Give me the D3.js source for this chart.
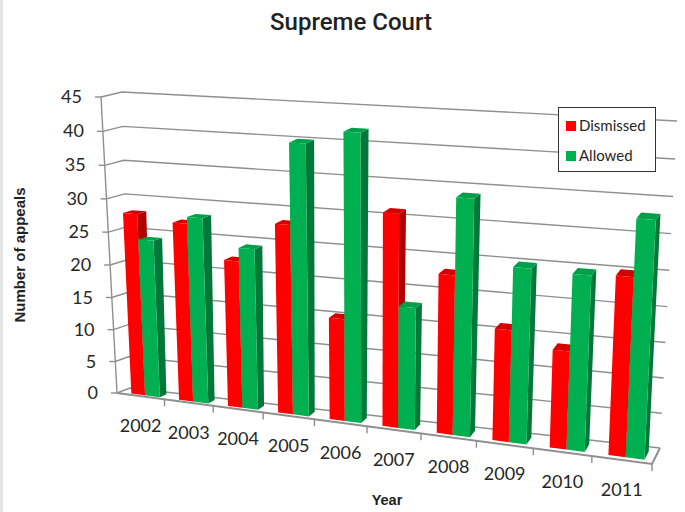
<!DOCTYPE html>
<html>
<head>
<meta charset="utf-8">
<script src="https://cdn.jsdelivr.net/npm/d3@7"></script>
<style>
  body { margin: 0; background: #fff; }
  svg { display: block; }
</style>
</head>
<body>
<script>
"use strict";

// DATA
const years = ["2002", "2003", "2004", "2005", "2006", "2007", "2008", "2009", "2010", "2011"];
const dismissed = [27.9, 27.1, 22.2, 28.2, 15.2, 31.1, 23.1, 16.1, 14, 25.1];
const allowed = [24.1, 28.1, 24.2, 40, 42, 17.9, 34, 25, 24.8, 33];
const valueTicks = [0, 5, 10, 15, 20, 25, 30, 35, 40, 45];
const seriesNames = ["Dismissed", "Allowed"];

const width = 685;
const height = 512;

const svg = d3.select("body").append("svg").attr("width", width).attr("height", height);

// PROJECTION: corners of the 3D box on screen
// f = front, b = back, l = left, r = right, 0 = floor, 1 = top
const box = {
  fl0: [117, 393], fl1: [101, 97], fr0: [652, 464], fr1: [668, 131],
  bl0: [130, 388], bl1: [122, 92], br0: [660, 448], br1: [677, 121],
};

const vScale = d3.scaleLinear().domain([0, 45]).range([0, 1]);
const cScale = d3.scaleLinear().domain([0, years.length]).range([0, 1]);
const perspective = 0.14; // categories get wider to the right
const perspectiveV = 0.05; // value steps get taller to the top

const lerp = (a, b, t) => [a[0] + (b[0] - a[0]) * t, a[1] + (b[1] - a[1]) * t];

// c = category position, v = value, d = depth 0..1
const project = function (c, v, d) {
  const t = cScale(c);
  const s = t / (1 + perspective * (1 - t));
  const n = vScale(v);
  const h = n / (1 + perspectiveV * (1 - n));
  const front = lerp(lerp(box.fl0, box.fr0, s), lerp(box.fl1, box.fr1, s), h);
  const back = lerp(lerp(box.bl0, box.br0, s), lerp(box.bl1, box.br1, s), h);
  return lerp(front, back, d);
};

const line = d3.line();
const poly = (pts) => line(pts) + "Z";

// BACKGROUND STRIP ON THE LEFT
svg.append("rect").attr("width", 3).attr("height", height).attr("fill", "#e4e4e4");

// GRID
const gridColor = "#8f8f8f";
const grid = svg.append("g").attr("fill", "none").attr("stroke", gridColor).attr("stroke-width", 1.4);

valueTicks.forEach((v) => {
  grid.append("path").attr("d", line([project(0, v, 0), project(0, v, 1), project(years.length, v, 1)]));
  const p = project(0, v, 0);
  grid.append("path").attr("d", line([[p[0] - 6, p[1]], p]));
});

// AXES LINES
grid.append("path").attr("d", line([project(0, 0, 0), project(0, 45, 0)]));
grid.append("path")
  .attr("stroke-width", 2)
  .attr("d", line([project(0, 0, 0), project(years.length, 0, 0), project(years.length, 0, 1)]));

d3.range(1, years.length + 1).forEach((c) => {
  const p = project(c, 0, 0);
  grid.append("path").attr("d", line([p, [p[0], p[1] + 7]]));
});

// BARS
const colors = [
  { front: "#ff0000", side: "#b00000", top: "#d40000" },
  { front: "#00b050", side: "#00783a", top: "#00a049" },
];
const slots = [[0.25, 0.54], [0.54, 0.85]];
const depth = [0.2, 0.72];

const bars = svg.append("g");
years.forEach((y, i) => {
  [dismissed[i], allowed[i]].forEach((value, s) => {
    const x0 = i + slots[s][0];
    const x1 = i + slots[s][1];
    const g = bars.append("g");
    g.append("path").attr("fill", colors[s].side).attr("d", poly([
      project(x1, 0, depth[0]), project(x1, value, depth[0]),
      project(x1, value, depth[1]), project(x1, 0, depth[1]),
    ]));
    g.append("path").attr("fill", colors[s].top).attr("d", poly([
      project(x0, value, depth[0]), project(x1, value, depth[0]),
      project(x1, value, depth[1]), project(x0, value, depth[1]),
    ]));
    g.append("path").attr("fill", colors[s].front).attr("d", poly([
      project(x0, 0, depth[0]), project(x1, 0, depth[0]),
      project(x1, value, depth[0]), project(x0, value, depth[0]),
    ]));
  });
});

// LABELS
const labelFont = "Lato, 'Open Sans', sans-serif";
const textColor = "#262626";

svg.append("g")
  .attr("font-family", labelFont).attr("font-size", 18).attr("fill", textColor).attr("text-anchor", "end")
  .selectAll("text").data(valueTicks).join("text")
  .attr("x", (d) => project(0, d, 0)[0] - 19)
  .attr("y", (d) => project(0, d, 0)[1] + 6)
  .text((d) => d);

svg.append("g")
  .attr("font-family", labelFont).attr("font-size", 18).attr("fill", textColor).attr("text-anchor", "middle")
  .selectAll("text").data(years).join("text")
  .attr("x", (d, i) => project(i + 0.5, 0, 0)[0])
  .attr("y", (d, i) => project(i + 0.5, 0, 0)[1] + 36)
  .text((d) => d);

svg.append("text")
  .attr("x", 351).attr("y", 30).attr("text-anchor", "middle")
  .attr("font-family", "Roboto, sans-serif").attr("font-weight", 500).attr("font-size", 24).attr("fill", "#222")
  .text("Supreme Court");

svg.append("text")
  .attr("x", 387).attr("y", 505).attr("text-anchor", "middle")
  .attr("font-family", "'Liberation Sans', sans-serif").attr("font-weight", "bold").attr("font-size", 14.5).attr("fill", "#222")
  .text("Year");

svg.append("text")
  .attr("transform", "translate(25,255) rotate(-90)").attr("text-anchor", "middle")
  .attr("font-family", "'Liberation Sans', sans-serif").attr("font-weight", "bold").attr("font-size", 15).attr("fill", "#222")
  .text("Number of appeals");

// LEGEND
const legend = svg.append("g").attr("transform", "translate(558,107)");
legend.append("rect").attr("x", 0.5).attr("y", 0.5).attr("width", 97).attr("height", 64)
  .attr("fill", "#fff").attr("stroke", "#333");
const legendItem = legend.selectAll("g").data(seriesNames).join("g")
  .attr("transform", (d, i) => `translate(8,${14 + i * 30})`);
legendItem.append("rect").attr("width", 10).attr("height", 10).attr("fill", (d, i) => colors[i].front);
legendItem.append("text").attr("x", 13).attr("y", 10)
  .attr("font-family", labelFont).attr("font-size", 15).attr("fill", textColor)
  .text((d) => d);
</script>
</body>
</html>
